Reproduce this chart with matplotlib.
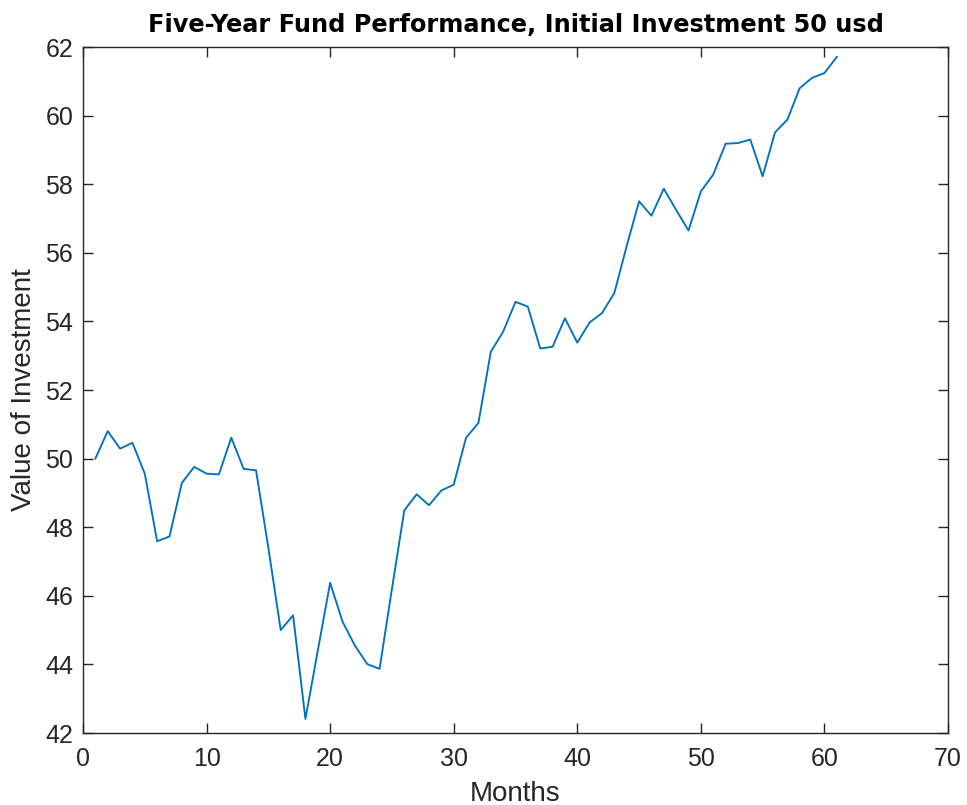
import matplotlib
matplotlib.use("Agg")
import matplotlib.pyplot as plt
import numpy as np

months = list(range(1, 62))
values = [
    50.00, 50.80, 50.29, 50.46, 49.56, 47.59, 47.73, 49.29, 49.76, 49.56,
    49.54, 50.61, 49.70, 49.66, 47.40, 45.00, 45.43, 42.41, 44.40, 46.38,
    45.25, 44.55, 44.01, 43.87, 46.20, 48.49, 48.96, 48.64, 49.07, 49.24,
    50.61, 51.04, 53.11, 53.70, 54.57, 54.43, 53.21, 53.26, 54.09, 53.38,
    53.97, 54.24, 54.83, 56.20, 57.50, 57.08, 57.87, 57.25, 56.65, 57.79,
    58.28, 59.18, 59.20, 59.30, 58.23, 59.51, 59.88, 60.80, 61.10, 61.24,
    61.71,
]
xticks = [0, 10, 20, 30, 40, 50, 60, 70]
yticks = [42, 44, 46, 48, 50, 52, 54, 56, 58, 60, 62]
title = "Five-Year Fund Performance, Initial Investment 50 usd"
xlabel = "Months"
ylabel = "Value of Investment"

plt.rcParams['font.family'] = ['Liberation Sans', 'DejaVu Sans']
W, H = 967, 805
fig = plt.figure(figsize=(W / 100, H / 100), dpi=100)
ax = fig.add_axes([83 / W, 1 - 733 / H, (948 - 83) / W, (733 - 47) / H])

ax.plot(months, values, color='#0072BD', linewidth=1.35)
ax.set_xlim(0, 70)
ax.set_ylim(42, 62)
ax.set_xticks(xticks)
ax.set_yticks(yticks)

grey = '#262626'
for s in ax.spines.values():
    s.set_color(grey)
    s.set_linewidth(1.0)
ax.tick_params(direction='in', top=True, right=True, length=7, width=1.0,
               colors=grey, labelsize=18)
ax.tick_params(axis='x', pad=10)
ax.tick_params(axis='y', pad=7)
ax.set_title(title, fontsize=17.3, fontweight='bold', color='black', pad=11,
             family=['DejaVu Sans'])
ax.set_xlabel(xlabel, fontsize=20, color=grey, labelpad=7)
ax.set_ylabel(ylabel, fontsize=20, color=grey, labelpad=6)

fig.savefig('out.png', dpi=100)
